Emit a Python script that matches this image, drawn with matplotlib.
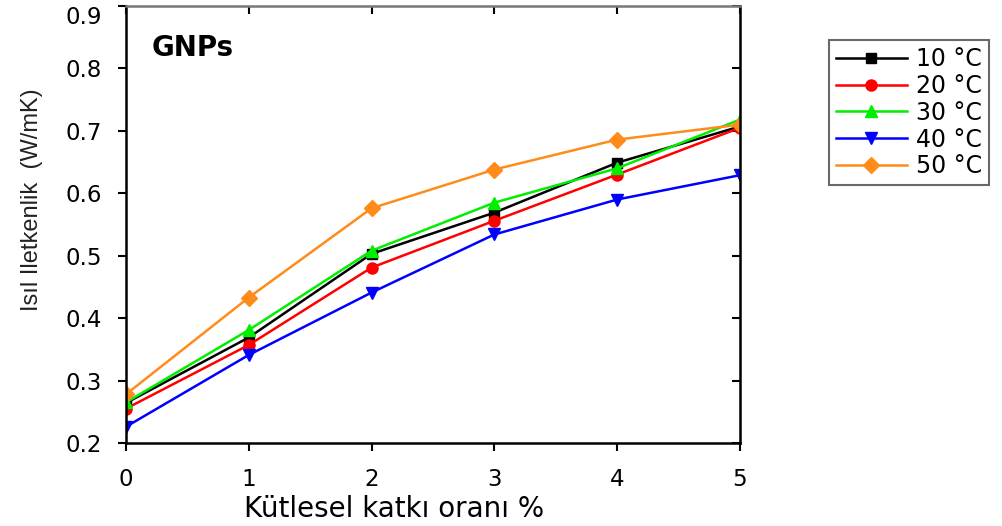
import matplotlib
matplotlib.use("Agg")
import matplotlib.pyplot as plt

plt.rcParams["font.family"] = ["DejaVu Sans"]

# Data
katki = [0, 1, 2, 3, 4, 5]
labels = ["10 °C", "20 °C", "30 °C", "40 °C", "50 °C"]
t10 = [0.264, 0.369, 0.503, 0.569, 0.649, 0.707]
t20 = [0.255, 0.357, 0.481, 0.556, 0.630, 0.705]
t30 = [0.265, 0.381, 0.508, 0.585, 0.640, 0.718]
t40 = [0.226, 0.341, 0.441, 0.534, 0.590, 0.629]
t50 = [0.278, 0.433, 0.576, 0.638, 0.686, 0.710]
yticks = [0.2, 0.3, 0.4, 0.5, 0.6, 0.7, 0.8, 0.9]

series = [t10, t20, t30, t40, t50]
colors = ["black", "#ff0000", "#00ee00", "#0000ff", "#ff8c1a"]
markers = ["s", "o", "^", "v", "D"]
msizes = [7, 8, 9, 9, 8]

fig = plt.figure(figsize=(10.02, 5.26), dpi=100)
ax = fig.add_axes([0.1257, 0.1578, 0.6128, 0.8308])

for vals, c, m, ms, lab in zip(series, colors, markers, msizes, labels):
    ax.plot(katki, vals, color=c, marker=m, markersize=ms, linewidth=1.8, label=lab)

ax.set_xlim(0, 5)
ax.set_ylim(0.2, 0.9)
ax.set_xticks(katki)
ax.set_yticks(yticks)
ax.tick_params(axis="both", labelsize=16.5, length=6, width=1.5, direction="out")
ax.tick_params(axis="y", pad=11)
ax.tick_params(axis="x", pad=12)
for s in ax.spines.values():
    s.set_linewidth(1.8)
ax.spines["top"].set_color("#777777")

# top label sits lower in the original, keep it inside the figure
ax.get_yticklabels()[-1].set_verticalalignment("top")

# inward ticks on top and right
ax_top = ax.secondary_xaxis("top")
ax_top.set_xticks(katki)
ax_top.tick_params(direction="in", length=6, width=1.5, labeltop=False)
ax_top.spines["top"].set_visible(False)
ax_right = ax.secondary_yaxis("right")
ax_right.set_yticks(yticks)
ax_right.tick_params(direction="in", length=6, width=1.5, labelright=False)

ax.set_xlabel("Kütlesel katkı oranı %", fontsize=20)
ax.xaxis.label.set_verticalalignment("center")
ax.xaxis.set_label_coords(0.437, -0.152)

ax.set_ylabel("Isıl Iletkenlik  (W/mK)", fontsize=17, color="#222222",
              family=["Liberation Sans", "DejaVu Sans"])
ax.yaxis.label.set_verticalalignment("center")
ax.yaxis.set_label_coords(-0.153, 0.556)

ax.text(0.042, 0.905, "GNPs", transform=ax.transAxes, fontsize=20,
        fontweight="bold", va="center")

leg = fig.legend(loc="upper left", bbox_to_anchor=(0.827, 0.924), fontsize=17,
                 frameon=True, fancybox=False, edgecolor="#444444",
                 handlelength=3.0, borderpad=0.3, labelspacing=0.12,
                 handletextpad=0.4, borderaxespad=0)
leg.get_frame().set_linewidth(1.5)

fig.savefig("out.png", dpi=100)
